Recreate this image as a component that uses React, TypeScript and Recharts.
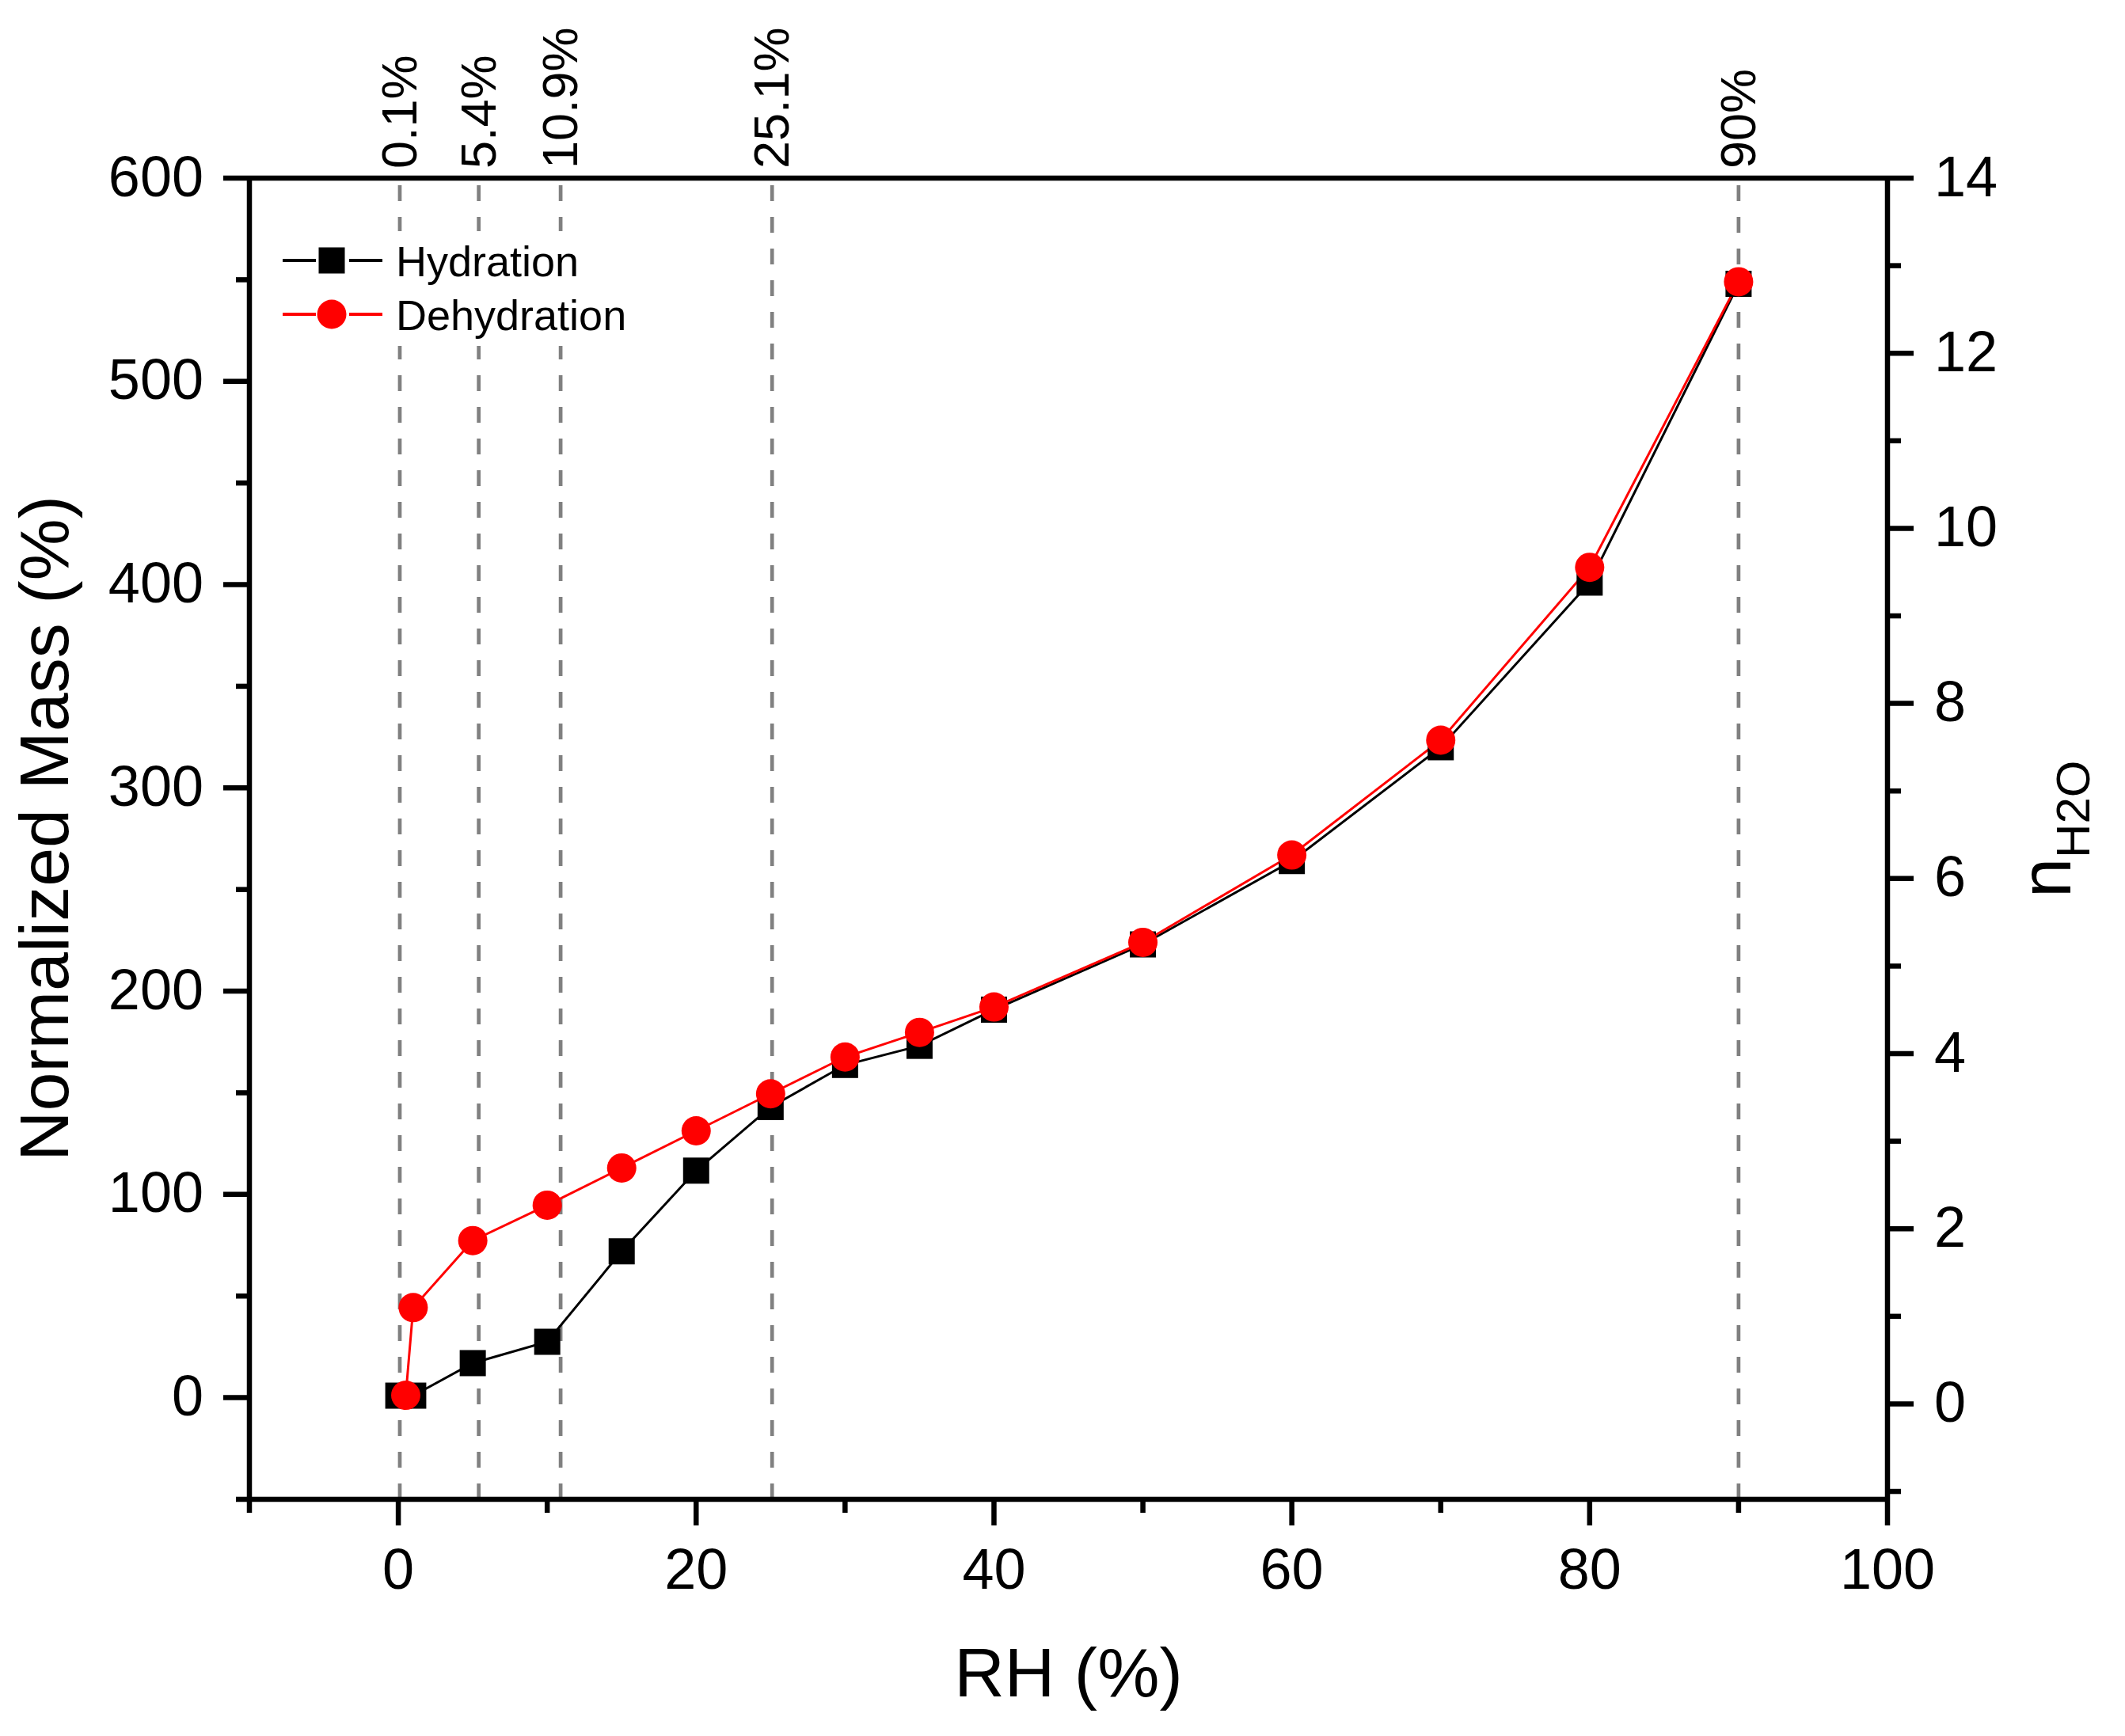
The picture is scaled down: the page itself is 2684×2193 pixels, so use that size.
import React from 'react';
import { LineChart, Line, XAxis, YAxis, ReferenceLine, Legend } from 'recharts';

const FONT = "'Liberation Sans', Arial, Helvetica, sans-serif";

// ---- data ----
const rhHydration = [0, 1, 5, 10, 15, 20, 25, 30, 35, 40, 50, 60, 70, 80, 90];
const massHydration = [1, 1, 17, 27.5, 72, 111.7, 143, 163.7, 173.1, 190.9, 223, 264, 320, 401, 548];
const rhDehydration = [90, 80, 70, 60, 50, 40, 35, 30, 25, 20, 15, 10, 5, 1, 0.5];
const massDehydration = [549, 408.5, 323.5, 267, 224, 192.2, 179.7, 167.6, 149.5, 131.3, 113, 94.7, 77.3, 44.3, 1.2];

const markerRH = [0.1, 5.4, 10.9, 25.1, 90];
const markerLabels = ['0.1%', '5.4%', '10.9%', '25.1%', '90%'];

const rhTicks = [-10, 0, 10, 20, 30, 40, 50, 60, 70, 80, 90, 100];
const rhMajorTicks = [0, 20, 40, 60, 80, 100];
const massTicks = [-50, 0, 50, 100, 150, 200, 250, 300, 350, 400, 450, 500, 550, 600];
const massMajorTicks = [0, 100, 200, 300, 400, 500, 600];
const nTicks = [-1, 0, 1, 2, 3, 4, 5, 6, 7, 8, 9, 10, 11, 12, 13, 14];
const nMajorTicks = [0, 2, 4, 6, 8, 10, 12, 14];

const seriesInfo = [
  { name: 'Hydration', color: '#000000', shape: 'square' },
  { name: 'Dehydration', color: '#ff0000', shape: 'circle' },
];

const hydrationData = rhHydration.map((rh, i) => ({ rh, mass: massHydration[i] }));
const dehydrationData = rhDehydration.map((rh, i) => ({ rh, mass: massDehydration[i] }));

// ---- styles ----
const AXIS_W = 6.5;
const MAJOR = 33;
const MINOR = 17;
const TICK_FONT = 72;

const BottomTick = (props: any) => {
  const { x, y, payload } = props;
  const v = payload.value;
  const major = rhMajorTicks.includes(v);
  return (
    <g>
      <line x1={x} x2={x} y1={y} y2={y + (major ? MAJOR : MINOR)} stroke="#000" strokeWidth={AXIS_W} />
      {major && (
        <text x={x} y={y + 113} textAnchor="middle" fontSize={TICK_FONT} fontFamily={FONT} fill="#000">
          {v}
        </text>
      )}
    </g>
  );
};

const LeftTick = (props: any) => {
  const { x, y, payload } = props;
  const v = payload.value;
  const major = massMajorTicks.includes(v);
  return (
    <g>
      <line x1={x} x2={x - (major ? MAJOR : MINOR)} y1={y} y2={y} stroke="#000" strokeWidth={AXIS_W} />
      {major && (
        <text x={x - 58} y={y + 22.5} textAnchor="end" fontSize={TICK_FONT} fontFamily={FONT} fill="#000">
          {v}
        </text>
      )}
    </g>
  );
};

const RightTick = (props: any) => {
  const { x, y, payload } = props;
  const v = payload.value;
  const major = nMajorTicks.includes(v);
  return (
    <g>
      <line x1={x} x2={x + (major ? MAJOR : MINOR)} y1={y} y2={y} stroke="#000" strokeWidth={AXIS_W} />
      {major && (
        <text x={x + 59} y={y + 22.5} textAnchor="start" fontSize={TICK_FONT} fontFamily={FONT} fill="#000">
          {v}
        </text>
      )}
    </g>
  );
};

const LeftTitle = (props: any) => {
  const vb = props.viewBox || { x: 0, y: 225, width: 315, height: 1669 };
  const x = vb.x + 86;
  const cy = vb.y + vb.height / 2 - 13;
  return (
    <text x={x} y={cy} transform={`rotate(-90, ${x}, ${cy})`} textAnchor="middle" fontSize={88} fontFamily={FONT} fill="#000">
      Normalized Mass (%)
    </text>
  );
};

const RightTitle = (props: any) => {
  const vb = props.viewBox || { x: 2384, y: 225, width: 300, height: 1669 };
  const x = vb.x + 231;
  const y0 = vb.y + vb.height / 2 + 74.5;
  return (
    <text x={x} y={y0} transform={`rotate(-90, ${x}, ${y0})`} textAnchor="start" fontSize={90} fontFamily={FONT} fill="#000">
      n
      <tspan fontSize={60} dy={24}>H2O</tspan>
    </text>
  );
};

const BottomTitle = (props: any) => {
  const vb = props.viewBox || { x: 315, y: 1894, width: 2069, height: 299 };
  return (
    <text x={vb.x + vb.width / 2} y={vb.y + 249} textAnchor="middle" fontSize={88} fontFamily={FONT} fill="#000">
      RH (%)
    </text>
  );
};

const makeRefLabel = (text: string) => (props: any) => {
  const vb = props.viewBox || { x: 0, y: 225 };
  const x = vb.x + 21;
  const y = vb.y - 12;
  return (
    <text x={x} y={y} transform={`rotate(-90, ${x}, ${y})`} textAnchor="start" fontSize={63} fontFamily={FONT} fill="#000">
      {text}
    </text>
  );
};

const SquareDot = (props: any) => {
  const { cx, cy, index } = props;
  if (cx == null || cy == null) return <g key={`hs-${index}`} />;
  return <rect key={`hs-${index}`} x={cx - 16.5} y={cy - 16.5} width={33} height={33} fill="#000000" />;
};

const CircleDot = (props: any) => {
  const { cx, cy, index } = props;
  if (cx == null || cy == null) return <g key={`dc-${index}`} />;
  return <circle key={`dc-${index}`} cx={cx} cy={cy} r={18.5} fill="#ff0000" />;
};

const LegendBox = () => (
  <svg width={470} height={145} style={{ display: 'block' }}>
    <rect x={0} y={0} width={470} height={145} fill="#ffffff" />
    {seriesInfo.map((s, i) => {
      const cy = 37 + i * 68;
      return (
        <g key={s.name}>
          <line x1={17} x2={59} y1={cy} y2={cy} stroke={s.color} strokeWidth={4} />
          <line x1={101} x2={143} y1={cy} y2={cy} stroke={s.color} strokeWidth={4} />
          {s.shape === 'square' ? (
            <rect x={79 - 16.5} y={cy - 16.5} width={33} height={33} fill={s.color} />
          ) : (
            <circle cx={79} cy={cy} r={18.5} fill={s.color} />
          )}
          <text x={160} y={cy + 19.5} fontSize={54} fontFamily={FONT} fill="#000">
            {s.name}
          </text>
        </g>
      );
    })}
  </svg>
);

export default function App() {
  return (
    <div style={{ position: 'absolute', left: 0, top: 0, width: 2684, height: 2193, background: '#ffffff' }}>
      <LineChart width={2684} height={2193} margin={{ top: 0, right: 0, bottom: 0, left: 0 }}>
        <XAxis
          xAxisId="x"
          dataKey="rh"
          type="number"
          domain={[-10, 100]}
          allowDataOverflow
          ticks={rhTicks}
          interval={0}
          height={299}
          tickSize={0}
          tickMargin={0}
          tickLine={false}
          axisLine={{ stroke: '#000', strokeWidth: AXIS_W }}
          tick={<BottomTick />}
          label={BottomTitle}
        />
        <XAxis
          xAxisId="top"
          dataKey="rh"
          orientation="top"
          type="number"
          domain={[-10, 100]}
          allowDataOverflow
          height={225}
          tick={false}
          tickLine={false}
          axisLine={{ stroke: '#000', strokeWidth: AXIS_W }}
        />
        <YAxis
          yAxisId="left"
          type="number"
          domain={[-50, 600]}
          allowDataOverflow
          ticks={massTicks}
          interval={0}
          width={315}
          tickSize={0}
          tickMargin={0}
          tickLine={false}
          axisLine={{ stroke: '#000', strokeWidth: AXIS_W }}
          tick={<LeftTick />}
          label={LeftTitle}
        />
        <YAxis
          yAxisId="right"
          orientation="right"
          type="number"
          domain={[-1.09, 14]}
          allowDataOverflow
          ticks={nTicks}
          interval={0}
          width={300}
          tickSize={0}
          tickMargin={0}
          tickLine={false}
          axisLine={{ stroke: '#000', strokeWidth: AXIS_W }}
          tick={<RightTick />}
          label={RightTitle}
        />
        {markerRH.map((v, i) => (
          <ReferenceLine
            key={`ref-${v}`}
            x={v}
            xAxisId="x"
            yAxisId="left"
            stroke="#808080"
            strokeWidth={4.7}
            strokeDasharray="20 20"
            label={makeRefLabel(markerLabels[i])}
          />
        ))}
        <Legend
          layout="horizontal"
          verticalAlign="middle"
          align="center"
          content={() => <LegendBox />}
          wrapperStyle={{ position: 'absolute', left: 340, top: 292, width: 470, height: 145, background: '#ffffff', zIndex: 10 }}
        />
        <Line
          data={hydrationData}
          dataKey="mass"
          name="Hydration"
          xAxisId="x"
          yAxisId="left"
          type="linear"
          stroke="#000000"
          strokeWidth={3}
          dot={SquareDot}
          activeDot={false}
          isAnimationActive={false}
        />
        <Line
          data={dehydrationData}
          dataKey="mass"
          name="Dehydration"
          xAxisId="x"
          yAxisId="left"
          type="linear"
          stroke="#ff0000"
          strokeWidth={3}
          dot={CircleDot}
          activeDot={false}
          isAnimationActive={false}
        />
      </LineChart>
    </div>
  );
}
